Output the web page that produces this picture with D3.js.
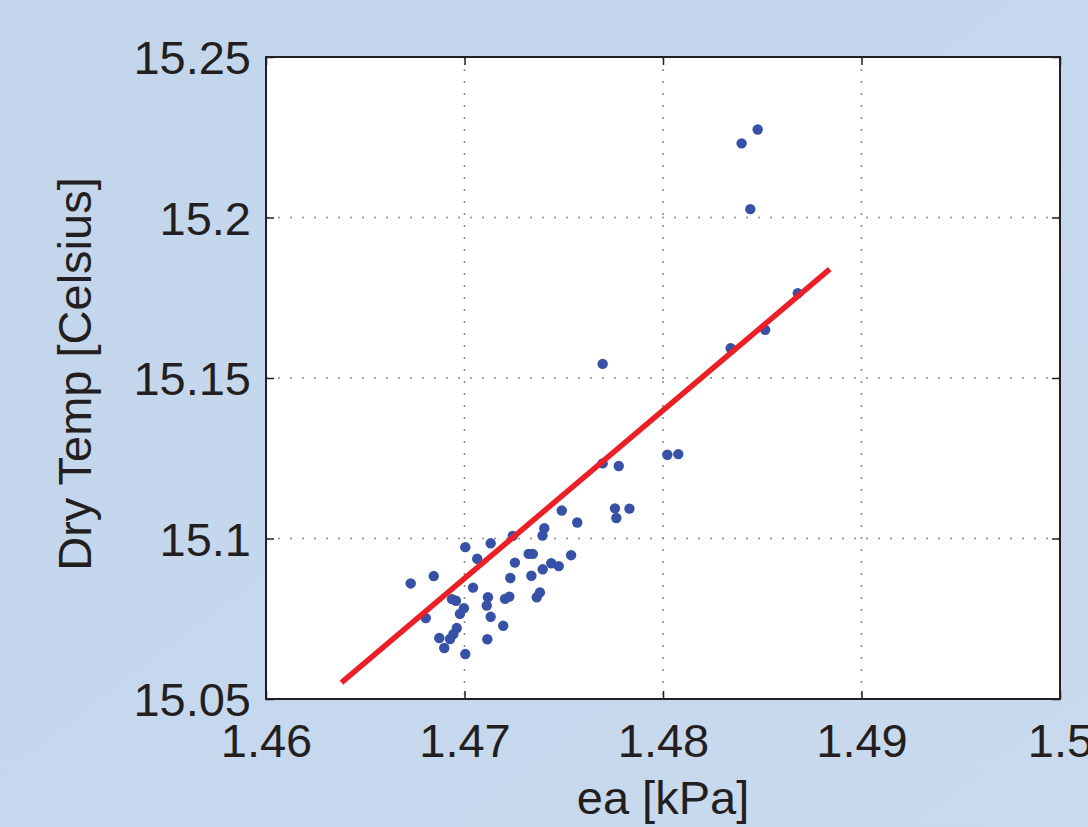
<!DOCTYPE html>
<html>
<head>
<meta charset="utf-8">
<script src="https://cdn.jsdelivr.net/npm/d3@7"></script>
<style>
  body { margin: 0; background: #c4d6ec; }
  svg { display: block; }
  .tick-label { font-family: "Liberation Sans", Arial, Helvetica, sans-serif; font-size: 47px; fill: #231f20; }
</style>
</head>
<body>
<svg id="canvas" width="1088" height="827"></svg>
<script>
// ea [kPa] vs Dry Temp [Celsius]
const eaKPa = [
  1.46729, 1.46845, 1.47004, 1.47132, 1.47243, 1.47064, 1.47402, 1.47393, 1.47568, 1.47323,
  1.47344, 1.47537, 1.47254, 1.47437, 1.47475, 1.47394, 1.47337, 1.47231, 1.47043, 1.46937,
  1.46957, 1.47118, 1.47112, 1.47204, 1.47226, 1.47380, 1.47364, 1.46997, 1.46977, 1.47132,
  1.46805, 1.47195, 1.46961, 1.46944, 1.46927, 1.46873, 1.47115, 1.46898, 1.47004, 1.47490,
  1.47758, 1.47831, 1.47765, 1.47696, 1.47696, 1.47777, 1.48022, 1.48077, 1.48341, 1.48477,
  1.48396, 1.48440, 1.48679, 1.48515
];
const dryTemp = [
  15.0860, 15.0883, 15.0973, 15.0985, 15.1008, 15.0937, 15.1032, 15.1009, 15.1050, 15.0952,
  15.0952, 15.0948, 15.0925, 15.0923, 15.0914, 15.0904, 15.0884, 15.0877, 15.0847, 15.0811,
  15.0806, 15.0817, 15.0791, 15.0812, 15.0819, 15.0832, 15.0817, 15.0783, 15.0765, 15.0756,
  15.0752, 15.0728, 15.0721, 15.0702, 15.0687, 15.0690, 15.0686, 15.0659, 15.0640, 15.1087,
  15.1094, 15.1093, 15.1064, 15.1544, 15.1234, 15.1226, 15.1261, 15.1263, 15.1593, 15.2274,
  15.2231, 15.2026, 15.1764, 15.1650
];

// recta de ajuste (extremos)
const ajusteX = [1.4638, 1.4884];
const ajusteY = [15.0551, 15.1839];

const xTicks = [1.46, 1.47, 1.48, 1.49, 1.5];
const yTicks = [15.05, 15.1, 15.15, 15.2, 15.25];

const svg = d3.select("#canvas");
const izq = 266, der = 1060, arriba = 57, abajo = 699;

// fondo azul con un degradado suave
const defs = svg.append("defs");
const grad = defs.append("linearGradient").attr("id", "fondo")
  .attr("x1", "0").attr("y1", "0").attr("x2", "1").attr("y2", "1");
grad.append("stop").attr("offset", "0%").attr("stop-color", "#c2d5eb");
grad.append("stop").attr("offset", "100%").attr("stop-color", "#c9daee");
svg.append("rect").attr("width", 1088).attr("height", 827).attr("fill", "url(#fondo)");

const x = d3.scaleLinear().domain([1.46, 1.5]).range([izq, der]);
const y = d3.scaleLinear().domain([15.05, 15.25]).range([abajo, arriba]);

// area del grafico
svg.append("rect")
  .attr("x", izq).attr("y", arriba)
  .attr("width", der - izq).attr("height", abajo - arriba)
  .attr("fill", "#ffffff");

// rejilla punteada
const rejilla = svg.append("g");
rejilla.selectAll(".gx").data(xTicks.slice(1, -1)).enter().append("line")
  .attr("x1", d => x(d)).attr("x2", d => x(d))
  .attr("y1", arriba).attr("y2", abajo)
  .attr("stroke", "#8c8c8c").attr("stroke-width", 1.6)
  .attr("stroke-dasharray", "2,10");
rejilla.selectAll(".gy").data(yTicks.slice(1, -1)).enter().append("line")
  .attr("y1", d => y(d)).attr("y2", d => y(d))
  .attr("x1", izq).attr("x2", der)
  .attr("stroke", "#8c8c8c").attr("stroke-width", 1.6)
  .attr("stroke-dasharray", "2,10");

// puntos
svg.append("g").selectAll("circle")
  .data(eaKPa.map((v, i) => [v, dryTemp[i]]))
  .enter().append("circle")
  .attr("cx", d => x(d[0]))
  .attr("cy", d => y(d[1]))
  .attr("r", 5.2)
  .attr("fill", "#3651a6");

// recta de ajuste
svg.append("path")
  .attr("d", d3.line().x(d => x(d[0])).y(d => y(d[1]))(ajusteX.map((v, i) => [v, ajusteY[i]])))
  .attr("stroke", "#ec1f26")
  .attr("stroke-width", 5.5)
  .attr("fill", "none");

// ejes con marcas hacia dentro
const tickLen = 8;
const ejeAbajo = svg.append("g").attr("transform", `translate(0,${abajo})`)
  .call(d3.axisBottom(x).tickValues(xTicks).tickSize(-tickLen).tickPadding(25).tickFormat(d3.format("")));
const ejeArriba = svg.append("g").attr("transform", `translate(0,${arriba})`)
  .call(d3.axisTop(x).tickValues(xTicks).tickSize(-tickLen).tickFormat(""));
const ejeIzq = svg.append("g").attr("transform", `translate(${izq},0)`)
  .call(d3.axisLeft(y).tickValues(yTicks).tickSize(-tickLen).tickPadding(15).tickFormat(d3.format("")));
const ejeDer = svg.append("g").attr("transform", `translate(${der},0)`)
  .call(d3.axisRight(y).tickValues(yTicks).tickSize(-tickLen).tickFormat(""));

[ejeAbajo, ejeArriba, ejeIzq, ejeDer].forEach(eje => {
  eje.select(".domain").remove();
  eje.selectAll(".tick line").attr("stroke", "#231f20").attr("stroke-width", 1.5);
  eje.selectAll("text").attr("class", "tick-label").attr("fill", "#231f20");
});
ejeAbajo.selectAll("text").attr("dy", "0.71em");
ejeIzq.selectAll("text").attr("dy", "0.36em");

// marco
svg.append("rect")
  .attr("x", izq).attr("y", arriba)
  .attr("width", der - izq).attr("height", abajo - arriba)
  .attr("fill", "none")
  .attr("stroke", "#231f20")
  .attr("stroke-width", 2);

// titulos de ejes
svg.append("text")
  .attr("class", "tick-label")
  .attr("x", (izq + der) / 2)
  .attr("y", 814)
  .attr("text-anchor", "middle")
  .text("ea [kPa]");

svg.append("text")
  .attr("class", "tick-label")
  .attr("transform", `translate(91,${(arriba + abajo) / 2 - 4}) rotate(-90)`)
  .attr("text-anchor", "middle")
  .text("Dry Temp [Celsius]");
</script>
</body>
</html>
